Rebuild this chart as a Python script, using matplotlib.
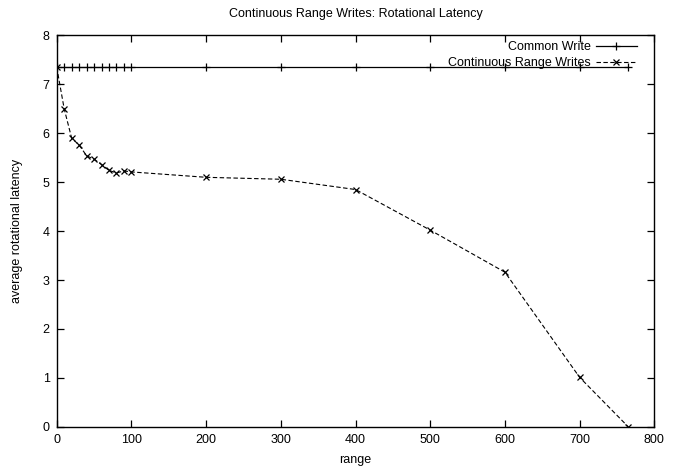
import matplotlib
matplotlib.use("Agg")
import matplotlib.pyplot as plt

plt.rcParams['font.family'] = ['Liberation Sans', 'DejaVu Sans']

# write range sizes
ranges = [0, 10, 20, 30, 40, 50, 60, 70, 80, 90, 100,
          200, 300, 400, 500, 600, 700, 765]

# average rotational latency for ordinary writes (constant)
common_write = [7.35] * len(ranges)

# average rotational latency for continuous range writes
continuous_writes = [7.35, 6.50, 5.90, 5.76, 5.54, 5.47, 5.36, 5.24, 5.19, 5.23, 5.21,
                     5.10, 5.06, 4.85, 4.02, 3.16, 1.01, 0.0]

x_ticks = [0, 100, 200, 300, 400, 500, 600, 700, 800]
y_ticks = [0, 1, 2, 3, 4, 5, 6, 7, 8]

fig = plt.figure(figsize=(6.81, 4.70), dpi=100)
ax = fig.add_axes([0.0833, 0.0921, 0.8775, 0.8324])

ax.plot(ranges, common_write, color='black', linewidth=0.9, marker='+',
        markersize=5.5, markeredgewidth=0.9, label='Common Write')
ax.plot(ranges, continuous_writes, color='black', linewidth=0.8,
        linestyle=(0, (4, 2.2)), marker='x', markersize=4.3,
        markeredgewidth=0.9, label='Continuous Range Writes')

ax.set_xlim(0, 800)
ax.set_ylim(0, 8)
ax.set_xticks(x_ticks)
ax.set_yticks(y_ticks)
ax.tick_params(direction='in', length=5, width=0.9, top=True, right=True,
               labelsize=9, pad=5)
for s in ax.spines.values():
    s.set_linewidth(1.0)

ax.set_xlabel('range', fontsize=9, labelpad=6)
ax.set_ylabel('average rotational latency', fontsize=9, labelpad=14)
ax.set_title('Continuous Range Writes: Rotational Latency', fontsize=9, pad=13)

leg = ax.legend(loc='upper right', frameon=False, fontsize=9, numpoints=1,
                markerfirst=False, handlelength=3.3, handletextpad=0.4,
                borderaxespad=0.0, labelspacing=0.33,
                bbox_to_anchor=(0.979, 0.998))

fig.savefig('out.png', dpi=100)
